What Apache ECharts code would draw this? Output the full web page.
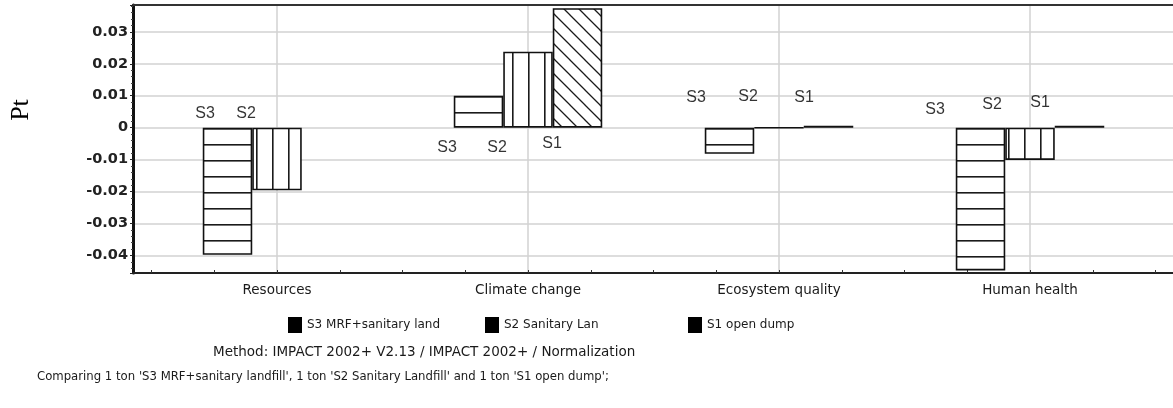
<!DOCTYPE html>
<html><head><meta charset="utf-8">
<script src="https://cdn.jsdelivr.net/npm/echarts@6/dist/echarts.min.js"></script>
<style>html,body{margin:0;padding:0;background:#fff}#c{width:1173px;height:408px}</style>
</head><body><div id="c"></div>
<script>
// ---- data ----
const categories = ['Resources', 'Climate change', 'Ecosystem quality', 'Human health'];
const seriesNames = ['S3 MRF+sanitary land', 'S2 Sanitary Lan', 'S1 open dump'];
const s3Values = [-0.0398, 0.0100, -0.0082, -0.0447];
const s2Values = [-0.0196, 0.0238, -0.00005, -0.0101];
const s1Values = [null, 0.0374, 0.0006, 0.0006];
const yTickValues = [-0.04, -0.03, -0.02, -0.01, 0, 0.01, 0.02, 0.03];
const yMin = -0.0455, yMax = 0.0384;
// annotation texts: [text, category index, y value, x offset]
const annotText = ['S3','S2','S3','S2','S1','S3','S2','S1','S3','S2','S1'];
const annotCat  = [0,0,1,1,1,2,2,2,3,3,3];
const annotY    = [0.0043,0.0043,-0.0063,-0.0063,-0.0051,0.0093,0.0096,0.0093,0.0055,0.0071,0.0077];
const annotDx   = [-72,-31,-81,-31,24,-83,-31,25,-95,-38,10];
const yAxisName = 'Pt';
const methodText = 'Method: IMPACT 2002+ V2.13 / IMPACT 2002+ / Normalization';
const compareText = "Comparing 1 ton 'S3 MRF+sanitary landfill', 1 ton 'S2 Sanitary Landfill' and 1 ton 'S1 open dump';";

// ---- patterns ----
function makeTile(w, h, draw) {
  const c = document.createElement('canvas'); c.width = w; c.height = h;
  const g = c.getContext('2d'); g.fillStyle = '#fff'; g.fillRect(0, 0, w, h);
  draw(g); return c;
}
const hPat = makeTile(16, 16, g => { g.fillStyle = '#1a1a1a'; g.fillRect(0, 0, 16, 1.6); });
const vPat = makeTile(16, 16, g => { g.fillStyle = '#1a1a1a'; g.fillRect(0, 0, 1.6, 16); });
const dPat = makeTile(15, 15, g => {
  g.strokeStyle = '#1a1a1a'; g.lineWidth = 1.3; g.beginPath();
  g.moveTo(-3, -3); g.lineTo(18, 18);
  g.moveTo(-3, 12); g.lineTo(3, 18);
  g.moveTo(12, -3); g.lineTo(18, 3);
  g.stroke();
});
const patterns = [hPat, vPat, dPat];
const values = [s3Values, s2Values, s1Values];
const legendLefts = [283, 480, 683];

const chart = echarts.init(document.getElementById('c'), null, {renderer: 'canvas'});
const gridTop = 5, gridBottom = 408 - 273;

const labelFmt = v => {
  const r = Math.round(v * 100) / 100;
  return (Math.abs(v - r) < 1e-9 && yTickValues.some(t => Math.abs(t - r) < 1e-9)) ? String(r) : '';
};

const barSeries = seriesNames.map((n, i) => ({
  name: n, type: 'bar', xAxisIndex: 0, yAxisIndex: 1,
  data: values[i], barWidth: 49.5, barGap: '0%',
  itemStyle: {color: {image: patterns[i], repeat: 'repeat'}, borderColor: '#111', borderWidth: 1.6},
  emphasis: {disabled: true}, silent: true, z: 3
}));

chart.setOption({
  animation: false,
  backgroundColor: '#fff',
  grid: [
    {left: 133, top: gridTop, width: 1050, bottom: gridBottom, containLabel: false},
    {left: 151.5, top: gridTop, right: 17.5, bottom: gridBottom, containLabel: false}
  ],
  xAxis: [
    {type: 'category', gridIndex: 1, data: categories, position: 'bottom',
     axisLine: {show: false, onZero: false}, axisTick: {show: false}, splitLine: {show: false},
     axisLabel: {margin: 10, fontFamily: 'DejaVu Sans', fontSize: 13.5, color: '#1a1a1a'}},
    {type: 'value', gridIndex: 1, min: 0, max: 16, interval: 1, position: 'bottom',
     axisLine: {show: false, onZero: false}, axisLabel: {show: false}, splitLine: {show: false},
     axisTick: {show: true, inside: true, length: 3, lineStyle: {color: '#333', width: 1}}},
    {type: 'category', gridIndex: 1, data: ['','','','','','','','',''], boundaryGap: false, position: 'bottom',
     axisLine: {show: false, onZero: false}, axisTick: {show: false}, axisLabel: {show: false},
     splitLine: {show: true, interval: (i) => i % 2 === 1, lineStyle: {color: '#d2d2d2', width: 1.5}}},
    {type: 'value', gridIndex: 0, position: 'bottom', min: 0, max: 1,
     axisLine: {show: true, onZero: false, lineStyle: {color: '#222', width: 2}},
     axisTick: {show: false}, axisLabel: {show: false}, splitLine: {show: false}},
    {type: 'value', gridIndex: 0, position: 'top', min: 0, max: 1,
     axisLine: {show: true, onZero: false, lineStyle: {color: '#333', width: 2}},
     axisTick: {show: false}, axisLabel: {show: false}, splitLine: {show: false}}
  ],
  yAxis: [
    {type: 'value', gridIndex: 0, min: yMin, max: yMax, splitNumber: 8,
     axisLine: {show: true, onZero: false, lineStyle: {color: '#111', width: 3}},
     axisTick: {show: true, length: 3, lineStyle: {color: '#222'}},
     minorTick: {show: true, splitNumber: 5, length: 2, lineStyle: {color: '#444'}},
     splitLine: {show: true, lineStyle: {color: '#d2d2d2', width: 1.5}},
     axisLabel: {formatter: labelFmt, showMinLabel: false, showMaxLabel: false, margin: 5,
       fontFamily: 'DejaVu Sans', fontWeight: 'bold', fontSize: 14.5, color: '#222'}},
    {type: 'value', gridIndex: 1, min: yMin, max: yMax, splitNumber: 8,
     axisLine: {show: false}, axisTick: {show: false}, axisLabel: {show: false}, splitLine: {show: false}}
  ],
  legend: seriesNames.map((n, i) => ({
    left: legendLefts[i], top: 312, itemWidth: 14, itemHeight: 16, itemGap: 0, selectedMode: false,
    icon: 'rect',
    data: [{name: n, itemStyle: {color: '#000', borderWidth: 0}}],
    textStyle: {fontFamily: 'DejaVu Sans', fontSize: 12, color: '#1a1a1a', padding: [0, 0, 0, 0]}
  })),
  series: barSeries.concat([{
    type: 'scatter', xAxisIndex: 0, yAxisIndex: 1, symbolSize: 0, silent: true, z: 5,
    data: annotText.map((t, i) => ({name: t, value: [annotCat[i], annotY[i]], label: {offset: [annotDx[i], 0]}})),
    label: {show: true, position: 'inside', formatter: p => p.name,
      fontFamily: 'Liberation Sans', fontSize: 16, color: '#000'}
  }]),
  graphic: [
    {type: 'text', x: 21, y: 110, rotation: Math.PI / 2,
     style: {text: yAxisName, font: '26px "Liberation Serif"', fill: '#000', align: 'center', verticalAlign: 'middle'}},
    {type: 'text', left: 213, top: 345,
     style: {text: methodText, font: '13.5px "DejaVu Sans"', fill: '#1a1a1a'}},
    {type: 'text', left: 37, top: 371,
     style: {text: compareText, font: '11.7px "DejaVu Sans"', fill: '#1a1a1a'}}
  ]
});
</script></body></html>
